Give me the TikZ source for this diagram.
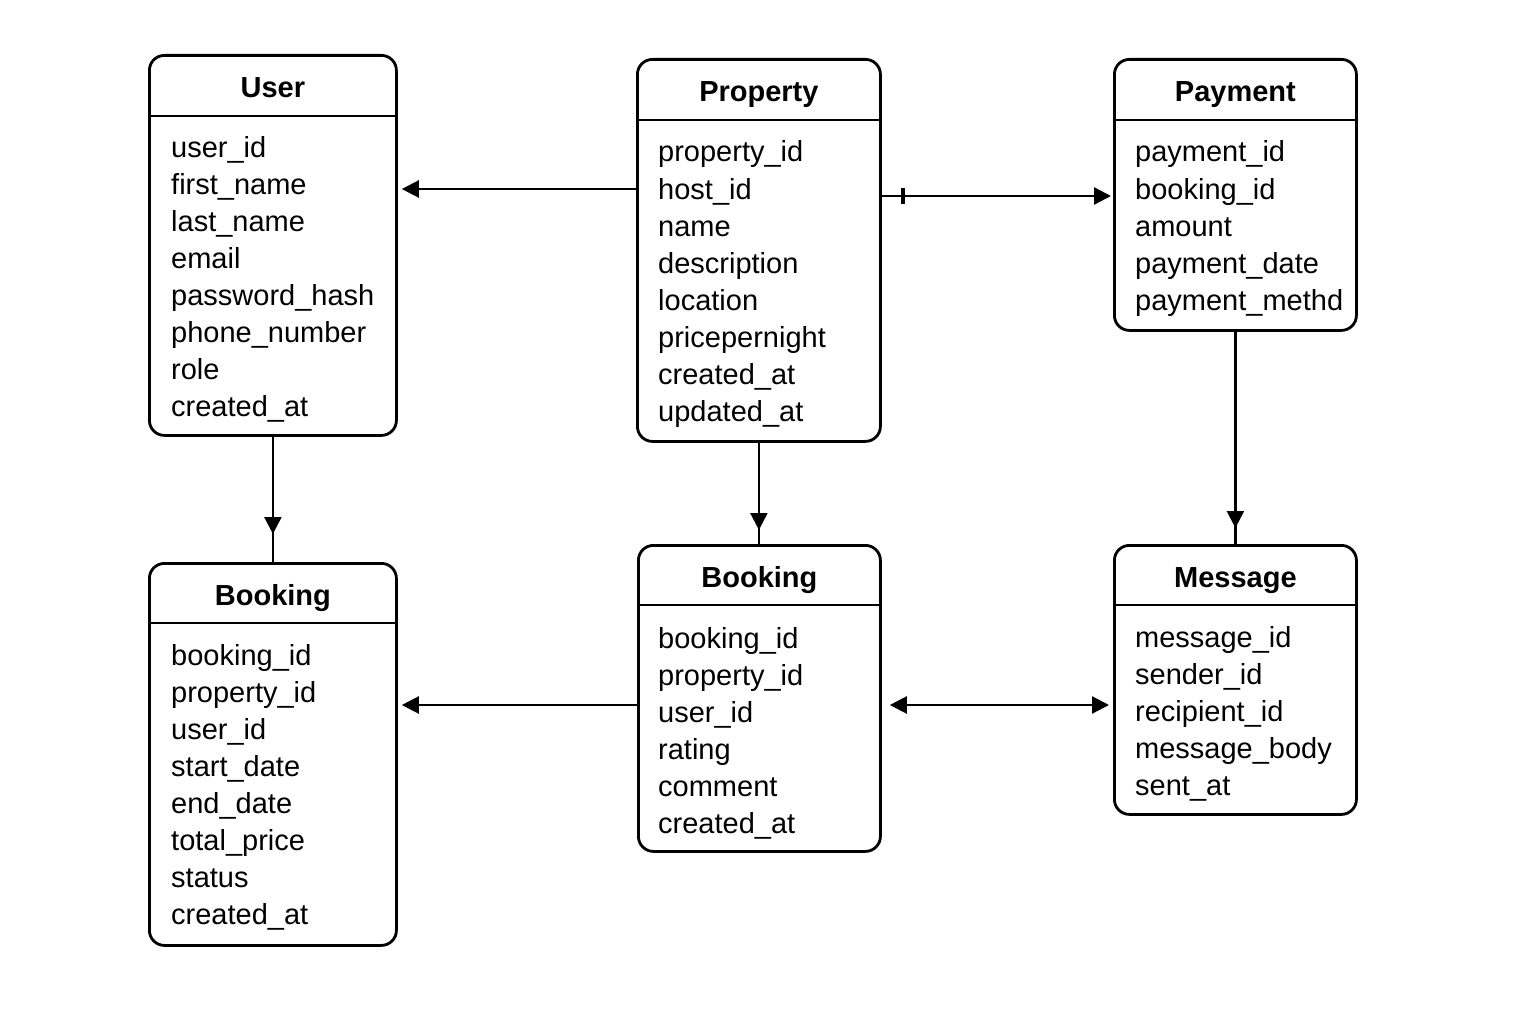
\documentclass[tikz,border=0pt]{standalone}
\usepackage{fontspec}
\setmainfont{Liberation Sans}
\usetikzlibrary{arrows.meta,decorations.markings,calc}
\begin{document}
\begin{tikzpicture}[x=1pt,y=-1pt,
  erbox/.style={draw, line width=2.8pt, rounded corners=15pt, anchor=north west, inner sep=0pt},
  hline/.style={line width=2.8pt},
  ertitle/.style={font=\fontsize{29}{32}\selectfont\bfseries, anchor=base},
  field/.style={font=\fontsize{29}{33}\selectfont, anchor=base west, inner sep=0pt},
  conn/.style={line width=2.3pt},
  tip/.style={-{Triangle[length=17pt,width=17pt]}},
  bothtip/.style={{Triangle[length=17pt,width=17pt]}-{Triangle[length=17pt,width=17pt]}},
  midarrow/.style={postaction={decorate}, decoration={markings, mark=at position #1 with {\arrow{Triangle[length=17pt,width=17pt]}}}},
  tickmark/.style={postaction={decorate}, decoration={markings, mark=at position #1 with {\fill (-2pt,-8pt) rectangle (2pt,8pt);}}}
]
\useasboundingbox (0,0) rectangle (1536,1024);
\fill[white] (0,0) rectangle (1536,1024);

% User
\node[erbox, minimum width=247pt, minimum height=380pt] (user) at (148,54) {};
\draw[hline] ([yshift=-62pt]user.north west) -- ([yshift=-62pt]user.north east);
\node[ertitle] (userT) at ([yshift=-44pt]user.north) {User};
\foreach \f [count=\i from 0] in {user\_id,first\_name,last\_name,email,password\_hash,phone\_number,role,created\_at}
  \node[field] (userF\i) at ($(user.north west)+(23,{104+\i*36.9})$) {\f};

% Property
\node[erbox, minimum width=243pt, minimum height=382pt] (property) at (636,58) {};
\draw[hline] ([yshift=-62pt]property.north west) -- ([yshift=-62pt]property.north east);
\node[ertitle] (propertyT) at ([yshift=-44pt]property.north) {Property};
\foreach \f [count=\i from 0] in {property\_id,host\_id,name,description,location,pricepernight,created\_at,updated\_at}
  \node[field] (propertyF\i) at ($(property.north west)+(22,{104+\i*37.1})$) {\f};

% Payment
\node[erbox, minimum width=242pt, minimum height=271pt] (payment) at (1113,58) {};
\draw[hline] ([yshift=-62pt]payment.north west) -- ([yshift=-62pt]payment.north east);
\node[ertitle] (paymentT) at ([yshift=-44pt]payment.north) {Payment};
\foreach \f [count=\i from 0] in {payment\_id,booking\_id,amount,payment\_date,payment\_methd}
  \node[field] (paymentF\i) at ($(payment.north west)+(22,{104+\i*37.1})$) {\f};

% Booking (left)
\node[erbox, minimum width=247pt, minimum height=382pt] (bookingA) at (148,562) {};
\draw[hline] ([yshift=-61pt]bookingA.north west) -- ([yshift=-61pt]bookingA.north east);
\node[ertitle] (bookingAT) at ([yshift=-43pt]bookingA.north) {Booking};
\foreach \f [count=\i from 0] in {booking\_id,property\_id,user\_id,start\_date,end\_date,total\_price,status,created\_at}
  \node[field] (bookingAF\i) at ($(bookingA.north west)+(23,{103+\i*37.1})$) {\f};

% Booking (middle)
\node[erbox, minimum width=242pt, minimum height=306pt] (bookingB) at (637,544) {};
\draw[hline] ([yshift=-61pt]bookingB.north west) -- ([yshift=-61pt]bookingB.north east);
\node[ertitle] (bookingBT) at ([yshift=-43pt]bookingB.north) {Booking};
\foreach \f [count=\i from 0] in {booking\_id,property\_id,user\_id,rating,comment,created\_at}
  \node[field] (bookingBF\i) at ($(bookingB.north west)+(21,{104+\i*37.1})$) {\f};

% Message
\node[erbox, minimum width=242pt, minimum height=269pt] (message) at (1113,544) {};
\draw[hline] ([yshift=-61pt]message.north west) -- ([yshift=-61pt]message.north east);
\node[ertitle] (messageT) at ([yshift=-43pt]message.north) {Message};
\foreach \f [count=\i from 0] in {message\_id,sender\_id,recipient\_id,message\_body,sent\_at}
  \node[field] (messageF\i) at ($(message.north west)+(22,{103+\i*37.1})$) {\f};

% Connectors
\draw[conn, tip, shorten >=4pt] ([yshift=-131pt]property.north west) -- ([yshift=-131pt]property.north west -| user.east);
\draw[conn, tip, shorten >=2pt, tickmark=21pt] ([yshift=-138pt]property.north east) -- ([yshift=-138pt]property.north east -| payment.west);
\draw[conn, midarrow=-28pt] (user.south) -- (user.south |- bookingA.north);
\draw[conn, midarrow=-14pt] (property.south) -- (property.south |- bookingB.north);
\draw[conn, midarrow=-16pt] (payment.south) -- (payment.south |- message.north);
\draw[conn, tip, shorten >=4pt] ([yshift=-161pt]bookingB.north west) -- ([yshift=-161pt]bookingB.north west -| bookingA.east);
\draw[conn, bothtip, shorten >=4pt, shorten <=8pt] ([yshift=-161pt]bookingB.north east) -- ([yshift=-161pt]bookingB.north east -| message.west);
\end{tikzpicture}
\end{document}
